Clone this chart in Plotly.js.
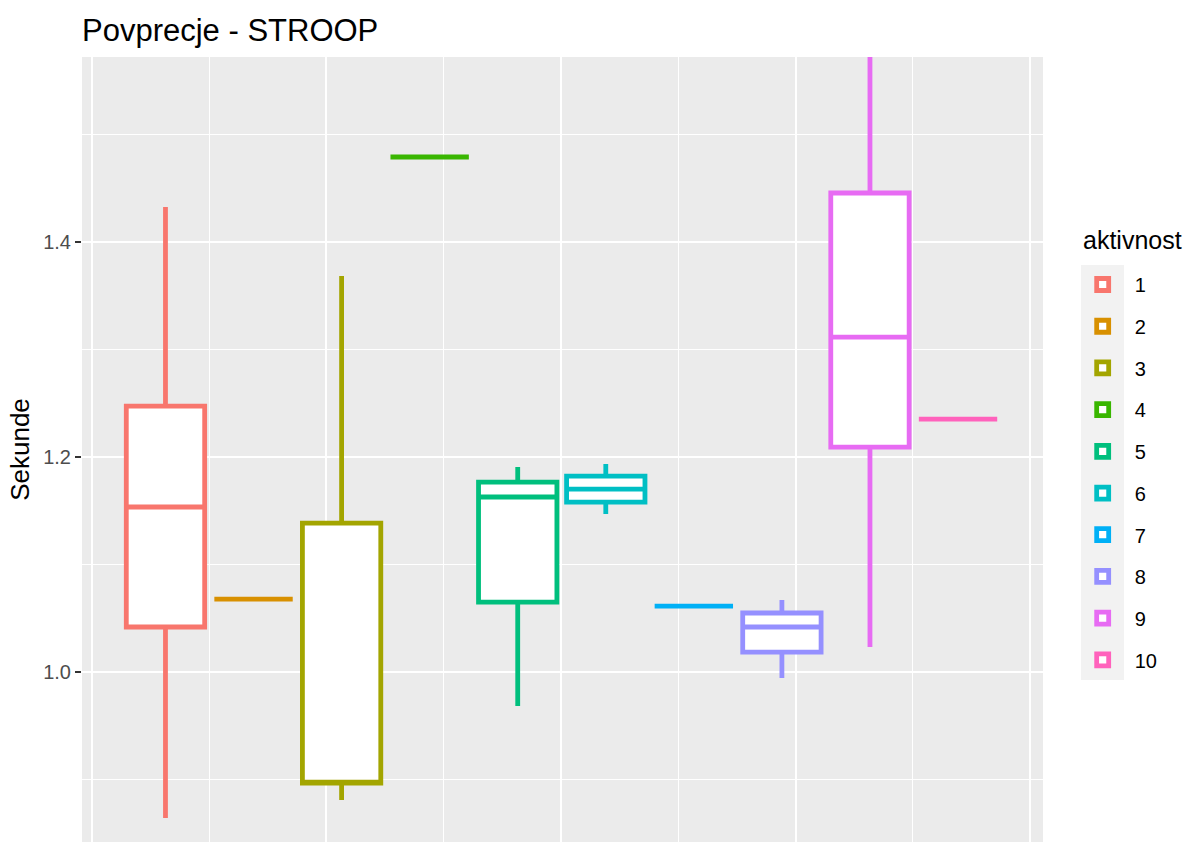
<!DOCTYPE html>
<html>
<head>
<meta charset="utf-8">
<script src="https://cdn.plot.ly/plotly-3.0.1.min.js"></script>
<style>html,body{margin:0;padding:0;background:#fff;}#chart{width:1187px;height:842px;}</style>
</head>
<body>
<div id="chart"></div>
<script>
// Data (seconds)
const groups = ['1','2','3','4','5','6','7','8','9','10'];
const lowerWhisker = [0.8642, 1.0679, 0.8809, 1.4791, 0.9684, 1.1470, 1.0614, 0.9944, 1.0233, 1.2353];
const q1Values     = [1.0419, 1.0679, 0.8967, 1.4791, 1.0651, 1.1581, 1.0614, 1.0186, 1.2093, 1.2353];
const medianValues = [1.1535, 1.0679, 0.8967, 1.4791, 1.1628, 1.1702, 1.0614, 1.0419, 1.3116, 1.2353];
const q3Values     = [1.2474, 1.0679, 1.1386, 1.4791, 1.1767, 1.1823, 1.0614, 1.0549, 1.4456, 1.2353];
const upperWhisker = [1.4326, 1.0679, 1.3684, 1.4791, 1.1907, 1.1935, 1.0614, 1.0670, 1.6200, 1.2353];
const yTickVals = [1.0, 1.2, 1.4];
const yTickText = ['1.0', '1.2', '1.4'];

const colors = ['#F8766D','#D89000','#A3A500','#39B600','#00BF7D','#00BFC4','#00B0F6','#9590FF','#E76BF3','#FF62BC'];

const traces = groups.map((g, i) => ({
  type: 'box',
  name: g,
  legendgroup: g,
  x: [i + 1],
  q1: [q1Values[i]],
  median: [medianValues[i]],
  q3: [q3Values[i]],
  lowerfence: [lowerWhisker[i]],
  upperfence: [upperWhisker[i]],
  width: 0.89,
  whiskerwidth: 0,
  boxpoints: false,
  fillcolor: '#FFFFFF',
  line: {color: colors[i], width: 4.8},
  hoverinfo: 'y+name'
}));

const layout = {
  width: 1187,
  height: 842,
  margin: {l: 82, r: 144, t: 57, b: 0},
  paper_bgcolor: '#FFFFFF',
  plot_bgcolor: '#EBEBEB',
  font: {family: 'Liberation Sans, Arial, sans-serif', color: '#000000'},
  title: {
    text: 'Povprecje - STROOP',
    font: {size: 31, color: '#000000'},
    xref: 'paper', x: 0, xanchor: 'left',
    yref: 'container', y: 1 - 30/842, yanchor: 'middle'
  },
  boxmode: 'overlay',
  showlegend: true,
  xaxis: {
    range: [0.052, 10.965],
    tick0: 0.165, dtick: 2.6634,
    showticklabels: false,
    ticks: '',
    showgrid: true, gridcolor: '#FFFFFF', gridwidth: 2,
    minor: {tick0: 0.165, dtick: 1.3317, showgrid: true, gridcolor: '#FFFFFF', gridwidth: 1.2, ticks: ''},
    zeroline: false, showline: false, fixedrange: true
  },
  yaxis: {
    range: [0.8419, 1.5721],
    tickmode: 'array', tickvals: yTickVals, ticktext: yTickText,
    ticks: 'outside', ticklen: 6, tickwidth: 2, tickcolor: '#333333',
    tickfont: {size: 20, color: '#4D4D4D'},
    showgrid: true, gridcolor: '#FFFFFF', gridwidth: 2,
    minor: {dtick: 0.1, tick0: 0.9, showgrid: true, gridcolor: '#FFFFFF', gridwidth: 1.2, ticks: ''},
    zeroline: false, showline: false,
    title: {text: 'Sekunde', font: {size: 26, color: '#000000'}, standoff: 6}
  },
  legend: {
    x: 1.0288, xanchor: 'left',
    y: 0.735, yanchor: 'top',
    font: {size: 20, color: '#000000'},
    itemwidth: 54,
    tracegroupgap: 12.7,
    bgcolor: 'rgba(0,0,0,0)'
  },
  annotations: [{
    text: 'aktivnost', showarrow: false,
    xref: 'paper', yref: 'paper',
    x: 1.0395, xanchor: 'left', y: 0.7669, yanchor: 'middle',
    font: {size: 25, color: '#000000'}
  }],
  shapes: [{
    type: 'rect', xref: 'paper', yref: 'paper',
    x0: 1.0395, x1: 1.0843, y0: 0.2064, y1: 0.735,
    fillcolor: '#F2F2F2', line: {width: 0}, layer: 'below'
  }]
};

Plotly.newPlot('chart', traces, layout, {displayModeBar: false, staticPlot: true});
</script>
</body>
</html>
